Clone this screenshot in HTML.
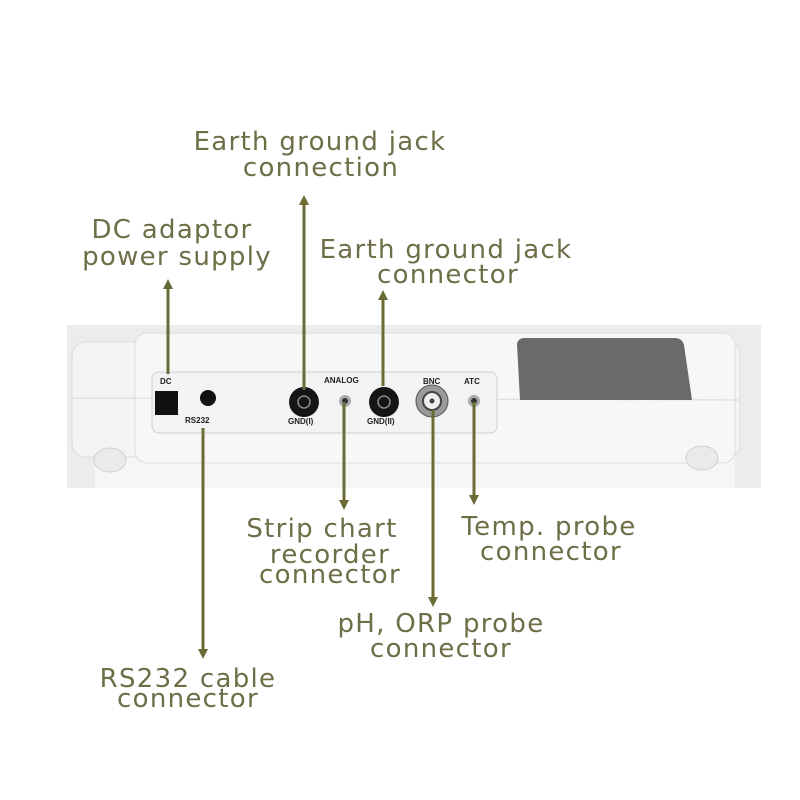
<!DOCTYPE html>
<html><head><meta charset="utf-8"><style>html,body{margin:0;padding:0;background:#fff}svg{display:block}</style></head>
<body>
<svg width="800" height="800" viewBox="0 0 800 800" xmlns="http://www.w3.org/2000/svg">
<rect width="800" height="800" fill="#fff"/>
<rect x="67" y="325" width="694" height="163" fill="#ececec"/>
<rect x="95" y="455" width="640" height="33" fill="#f6f6f6"/>
<rect x="72" y="342" width="90" height="115" rx="14" fill="#f4f4f4" stroke="#dcdcdc"/>
<rect x="700" y="342" width="40" height="115" rx="12" fill="#f4f4f4" stroke="#dcdcdc"/>
<rect x="135" y="333" width="600" height="130" rx="12" fill="#f7f7f7" stroke="#dddddd"/>
<line x1="72" y1="398" x2="740" y2="400" stroke="#d8d8d8"/>
<path d="M517 344 Q518 338 525 338 L675 338 Q682 338 684 345 L692 400 L520 400 Z" fill="#6a6a6a"/>
<ellipse cx="110" cy="460" rx="16" ry="12" fill="#eaeaea" stroke="#cfcfcf"/>
<ellipse cx="702" cy="458" rx="16" ry="12" fill="#eaeaea" stroke="#cfcfcf"/>
<rect x="152" y="372" width="345" height="61" rx="7" fill="#f3f3f3" stroke="#cfcfcf"/>
<rect x="155" y="391" width="23" height="24" fill="#111"/>
<circle cx="208" cy="398" r="8" fill="#111"/>
<circle cx="304" cy="402" r="15" fill="#151515"/><circle cx="304" cy="402" r="6" fill="none" stroke="#888" stroke-width="1.5"/>
<circle cx="345" cy="401" r="6" fill="#aaa"/><circle cx="345" cy="401" r="3" fill="#333"/>
<circle cx="384" cy="402" r="15" fill="#151515"/><circle cx="384" cy="402" r="6" fill="none" stroke="#888" stroke-width="1.5"/>
<circle cx="432" cy="401" r="16" fill="#999" stroke="#555"/><circle cx="432" cy="401" r="9" fill="#eee" stroke="#444" stroke-width="2"/><circle cx="432" cy="401" r="2.5" fill="#444"/>
<circle cx="474" cy="401" r="6" fill="#aaa"/><circle cx="474" cy="401" r="3" fill="#333"/>
<g font-family="Liberation Sans, sans-serif" font-size="8" font-weight="bold" fill="#222">
<text x="160" y="384">DC</text><text x="185" y="423">RS232</text>
<text x="324" y="383">ANALOG</text><text x="288" y="424">GND(I)</text><text x="367" y="424">GND(II)</text>
<text x="423" y="384">BNC</text><text x="464" y="384">ATC</text>
</g>
<g stroke="#6b6b35" stroke-width="3" fill="none">
<line x1="168" y1="286" x2="168" y2="374"/>
<line x1="304" y1="202" x2="304" y2="390"/>
<line x1="383" y1="297" x2="383" y2="386"/>
<line x1="203" y1="428" x2="203" y2="652"/>
<line x1="344" y1="402" x2="344" y2="503"/>
<line x1="433" y1="410" x2="433" y2="600"/>
<line x1="474" y1="402" x2="474" y2="498"/>
</g>
<g fill="#6b6b35">
<path d="M168 279 l-5 10 h10z"/><path d="M304 195 l-5 10 h10z"/><path d="M383 290 l-5 10 h10z"/>
<path d="M203 659 l-5 -10 h10z"/><path d="M344 510 l-5 -10 h10z"/><path d="M433 607 l-5 -10 h10z"/><path d="M474 505 l-5 -10 h10z"/>
</g>
<g font-family="DejaVu Sans, Verdana, sans-serif" font-size="26" letter-spacing="1.3" fill="#6e6e48" text-anchor="middle">
<text x="320" y="150">Earth ground jack</text><text x="321" y="176">connection</text>
<text x="172" y="238">DC adaptor</text><text x="177" y="265">power supply</text>
<text x="446" y="258">Earth ground jack</text><text x="448" y="283">connector</text>
<text x="322" y="537">Strip chart</text><text x="330" y="563">recorder</text><text x="330" y="583">connector</text>
<text x="549" y="535">Temp. probe</text><text x="551" y="560">connector</text>
<text x="441" y="632">pH, ORP probe</text><text x="441" y="657">connector</text>
<text x="188" y="687">RS232 cable</text><text x="188" y="707">connector</text>
</g>
</svg>
</body></html>
